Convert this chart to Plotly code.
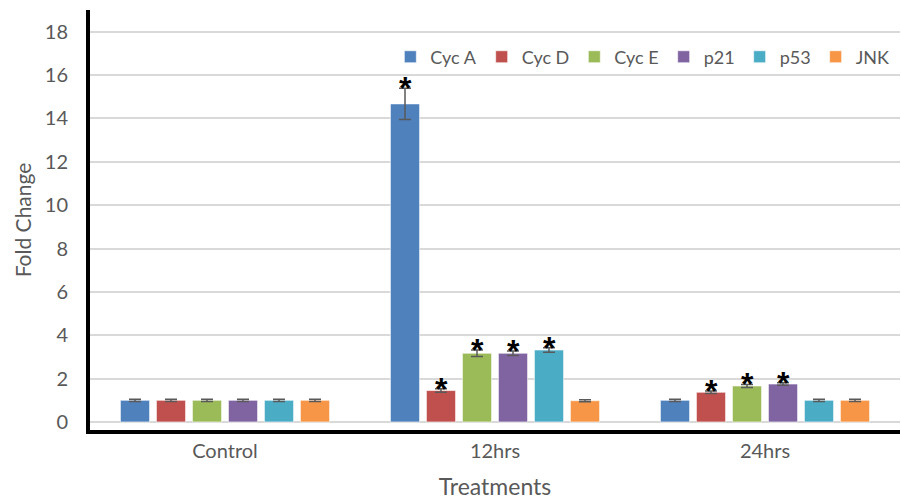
import plotly.graph_objects as go

# Treatment groups and genes
treatments = ["Control", "12hrs", "24hrs"]
genes = ["Cyc A", "Cyc D", "Cyc E", "p21", "p53", "JNK"]
colors = ["#4F81BD", "#C0504D", "#9BBB59", "#8064A2", "#4BACC6", "#F79646"]

# Fold change per gene across treatments
cyc_a = [1.0, 14.67, 1.0]
cyc_d = [1.0, 1.45, 1.37]
cyc_e = [1.0, 3.17, 1.66]
p21 = [1.0, 3.17, 1.75]
p53 = [1.0, 3.32, 1.0]
jnk = [1.0, 0.98, 1.0]

# Standard error per gene across treatments
err_cyc_a = [0.05, 0.72, 0.05]
err_cyc_d = [0.05, 0.08, 0.06]
err_cyc_e = [0.05, 0.15, 0.07]
err_p21 = [0.05, 0.10, 0.06]
err_p53 = [0.05, 0.10, 0.05]
err_jnk = [0.05, 0.05, 0.05]

# Significance markers (True = significant vs control)
sig_cyc_a = [False, True, False]
sig_cyc_d = [False, True, True]
sig_cyc_e = [False, True, True]
sig_p21 = [False, True, True]
sig_p53 = [False, True, False]
sig_jnk = [False, False, False]

values = [cyc_a, cyc_d, cyc_e, p21, p53, jnk]
errors = [err_cyc_a, err_cyc_d, err_cyc_e, err_p21, err_p53, err_jnk]
signif = [sig_cyc_a, sig_cyc_d, sig_cyc_e, sig_p21, sig_p53, sig_jnk]

FONT = "Lato"
GREY = "#595959"
BARGAP = 0.2

fig = go.Figure()
for name, col, v, e in zip(genes, colors, values, errors):
    fig.add_trace(go.Bar(
        name=name, x=treatments, y=v,
        marker=dict(color=col, line=dict(color="rgba(255,255,255,0.6)", width=1)),
        error_y=dict(type="data", array=e, color=GREY, thickness=1.5, width=6),
    ))

# Asterisks above significant bars
n = len(genes)
slot = (1 - BARGAP) / n
annotations = []
for gi, (v, e, s) in enumerate(zip(values, errors, signif)):
    for ti in range(len(treatments)):
        if s[ti]:
            xpos = ti - (1 - BARGAP) / 2 + slot * (gi + 0.5)
            annotations.append(dict(
                x=xpos, y=v[ti] + e[ti], xref="x", yref="y",
                text="<b>*</b>", showarrow=False,
                font=dict(family="Liberation Sans", size=32, color="black"),
                yanchor="middle", yshift=0,
            ))

fig.update_layout(
    width=901, height=500,
    margin=dict(l=90, r=1, t=10, b=70),
    paper_bgcolor="white", plot_bgcolor="white",
    font=dict(family=FONT, color=GREY),
    barmode="group", bargap=BARGAP, bargroupgap=0.19,
    showlegend=True,
    legend=dict(
        orientation="h", x=0.993, y=0.888, xanchor="right", yanchor="middle",
        font=dict(size=18, color=GREY), bgcolor="rgba(0,0,0,0)",
        itemwidth=30, traceorder="normal",
    ),
    annotations=annotations,
)

fig.update_xaxes(
    type="category", showline=True, linecolor="black", linewidth=4,
    tickfont=dict(size=20, color=GREY), ticks="", ticklabelstandoff=0,
    title=dict(text="Treatments", font=dict(size=23, color=GREY), standoff=20),
    showgrid=False,
)
fig.update_yaxes(
    range=[-0.37, 19.0], tickvals=list(range(0, 19, 2)),
    showline=True, linecolor="black", linewidth=4,
    showgrid=True, gridcolor="#D9D9D9", gridwidth=1.5,
    zeroline=False, ticks="", ticklabelstandoff=14,
    tickfont=dict(size=20, color=GREY),
    title=dict(text="Fold Change", font=dict(size=21, color=GREY), standoff=8),
)

fig.write_html("out.html")
